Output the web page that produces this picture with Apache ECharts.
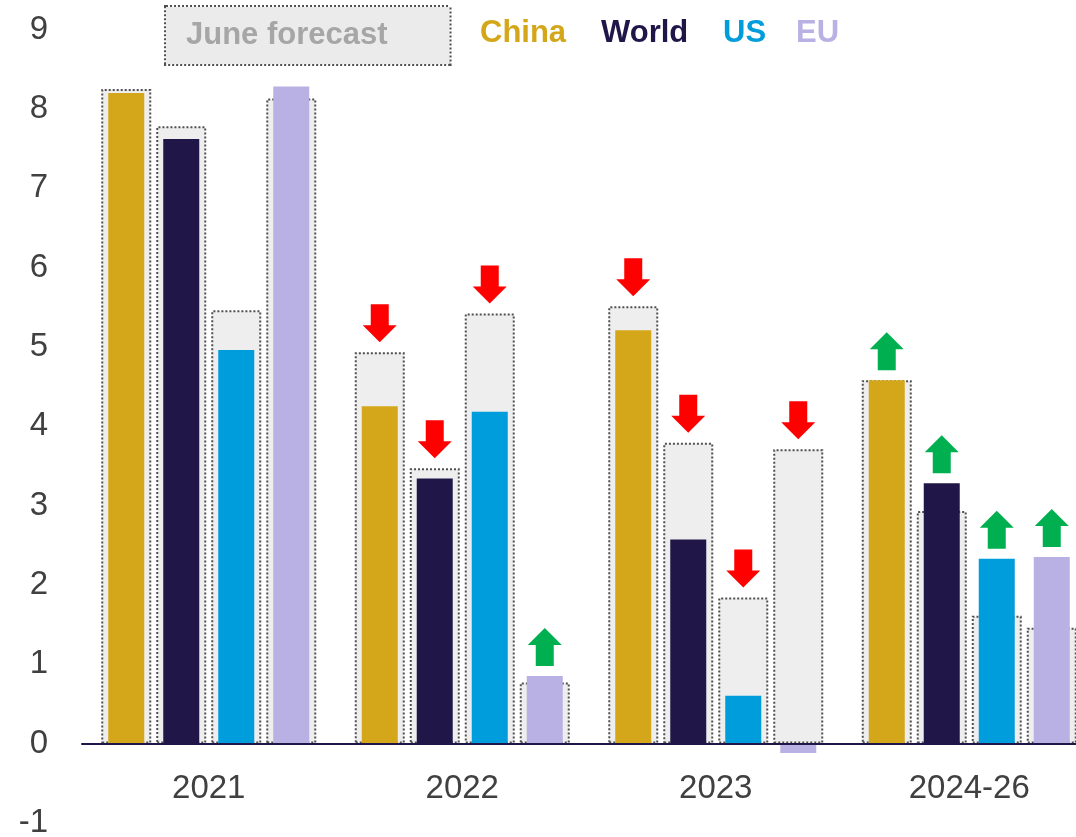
<!DOCTYPE html>
<html>
<head>
<meta charset="utf-8">
<script src="https://cdn.jsdelivr.net/npm/echarts@6/dist/echarts.min.js"></script>
<style>
  html, body { margin: 0; padding: 0; background: #ffffff; }
  #chart { width: 1076px; height: 837px; }
</style>
</head>
<body>
<div id="chart"></div>
<script>
// Growth outlook (%) by period, with the June forecast shown as a dotted ghost bar
const periods = ['2021', '2022', '2023', '2024-26'];

const chinaNow   = [8.20, 4.25, 5.21, 4.58];
const worldNow   = [7.62, 3.34, 2.57, 3.28];
const usNow      = [4.96, 4.18, 0.60, 2.33];
const euNow      = [8.28, 0.85, -0.12, 2.35];

const chinaJune  = [8.25, 4.93, 5.51, 4.58];
const worldJune  = [7.78, 3.47, 3.79, 2.93];
const usJune     = [5.46, 5.42, 1.84, 1.61];
const euJune     = [8.13, 0.77, 3.71, 1.46];

// Direction of the revision versus June
const chinaMove  = ['', 'down', 'down', 'up'];
const worldMove  = ['', 'down', 'down', 'up'];
const usMove     = ['', 'down', 'down', 'up'];
const euMove     = ['', 'up', 'down', 'up'];

const yTicks = [-1, 0, 1, 2, 3, 4, 5, 6, 7, 8, 9];

const FONT = "'Liberation Sans', Arial, Helvetica, sans-serif";
const COLORS = { China: '#D4A71A', World: '#201748', US: '#009DDC', EU: '#B9B0E3' };

const ARROW_DOWN = 'path://M8,0 H26 V21 H34 L17,38 L0,21 H8 Z';
const ARROW_UP   = 'path://M17,0 L34,17 H26 V38 H8 V17 H0 Z';

const groups = [
  { name: 'China', now: chinaNow, june: chinaJune, move: chinaMove },
  { name: 'World', now: worldNow, june: worldJune, move: worldMove },
  { name: 'US',    now: usNow,    june: usJune,    move: usMove },
  { name: 'EU',    now: euNow,    june: euJune,    move: euMove }
];

const GRID_TOP = 29.5;
const GRID_HEIGHT = 793.3;
const yMin = yTicks[0];
const yMax = yTicks[yTicks.length - 1];
// lift the category axis from the grid bottom up to the zero line
const zeroLift = GRID_HEIGHT * (0 - yMin) / (yMax - yMin);

const DOTS = [2, 2];
const series = [];

// Ghost bars for the June forecast (wider, behind)
groups.forEach(g => {
  series.push({
    name: 'June forecast',
    type: 'bar',
    xAxisIndex: 1,
    barWidth: 50,
    barGap: '10%',
    barCategoryGap: '15%',
    z: 1,
    itemStyle: {
      color: '#EEEEEE',
      borderColor: '#505050',
      borderWidth: 2,
      borderType: DOTS
    },
    data: g.june
  });
});

// Current estimates
groups.forEach(g => {
  series.push({
    name: g.name,
    type: 'bar',
    xAxisIndex: 0,
    barWidth: 36,
    barGap: '52.78%',
    barCategoryGap: '20%',
    z: 3,
    itemStyle: { color: COLORS[g.name] },
    data: g.now
  });
});

// Revision arrows sitting above the taller of the two bars
groups.forEach(g => {
  series.push({
    name: g.name + ' revision',
    type: 'pictorialBar',
    xAxisIndex: 0,
    barWidth: 36,
    barGap: '52.78%',
    barCategoryGap: '20%',
    z: 4,
    symbolPosition: 'end',
    symbolSize: [34, 38],
    symbolOffset: [0, -48],
    data: g.move.map((m, i) => {
      if (!m) return { value: '-' };
      return {
        value: Math.max(g.now[i], g.june[i]),
        symbol: m === 'up' ? ARROW_UP : ARROW_DOWN,
        itemStyle: { color: m === 'up' ? '#00B050' : '#FF0000' }
      };
    })
  });
});

const legendText = { fontFamily: FONT, fontSize: 31, fontWeight: 'bold' };

const option = {
  animation: false,
  backgroundColor: '#ffffff',
  grid: {
    left: 82, top: GRID_TOP, width: 1014, height: GRID_HEIGHT,
    containLabel: false,
    outerBoundsMode: 'none'
  },
  legend: [
    {
      data: [{ name: 'June forecast', icon: 'none' }],
      left: 161, top: 5, padding: 0, itemWidth: 0, selectedMode: false,
      textStyle: Object.assign({}, legendText, {
        color: '#A6A6A6',
        backgroundColor: '#EBEBEB',
        borderColor: '#505050',
        borderWidth: 2,
        borderType: DOTS,
        padding: [13, 62, 13, 20]
      })
    },
    { data: [{ name: 'China', icon: 'none' }], left: 475, top: 18, padding: 0, itemWidth: 0, selectedMode: false,
      textStyle: Object.assign({}, legendText, { color: COLORS.China }) },
    { data: [{ name: 'World', icon: 'none' }], left: 596, top: 18, padding: 0, itemWidth: 0, selectedMode: false,
      textStyle: Object.assign({}, legendText, { color: COLORS.World }) },
    { data: [{ name: 'US', icon: 'none' }], left: 718, top: 18, padding: 0, itemWidth: 0, selectedMode: false,
      textStyle: Object.assign({}, legendText, { color: COLORS.US }) },
    { data: [{ name: 'EU', icon: 'none' }], left: 791, top: 18, padding: 0, itemWidth: 0, selectedMode: false,
      textStyle: Object.assign({}, legendText, { color: COLORS.EU }) }
  ],
  xAxis: [
    {
      type: 'category',
      data: periods,
      position: 'bottom',
      offset: -zeroLift,
      z: 10,
      axisLine: { onZero: false, lineStyle: { color: '#201748', width: 2 } },
      axisTick: { show: false },
      axisLabel: { color: '#404040', fontFamily: FONT, fontSize: 33, margin: 29 }
    },
    {
      type: 'category',
      data: periods,
      show: false
    }
  ],
  yAxis: {
    type: 'value',
    min: yMin,
    max: yMax,
    interval: 1,
    axisLine: { show: false },
    axisTick: { show: false },
    splitLine: { show: false },
    axisLabel: { color: '#404040', fontFamily: FONT, fontSize: 33, margin: 34 }
  },
  series: series
};

const chart = echarts.init(document.getElementById('chart'), null, { renderer: 'canvas' });
chart.setOption(option);
</script>
</body>
</html>
